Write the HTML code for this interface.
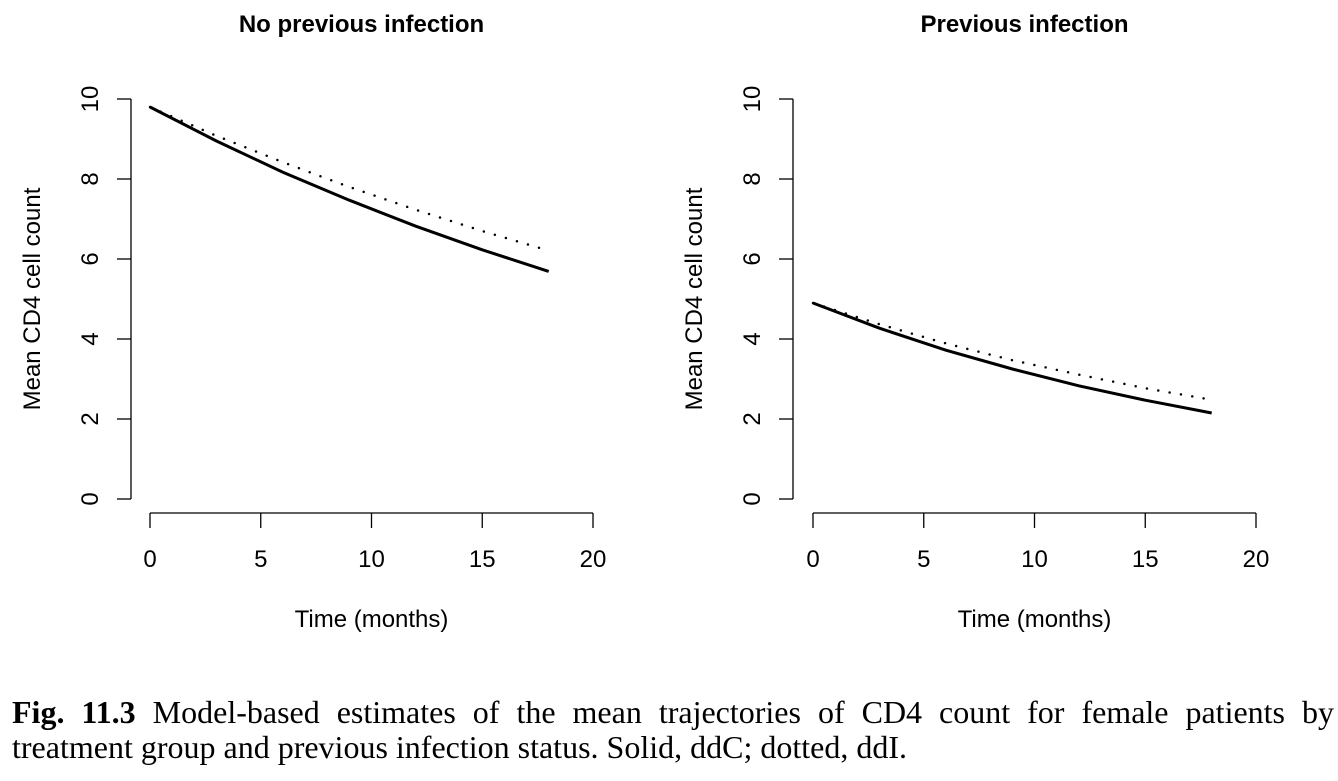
<!DOCTYPE html>
<html><head><meta charset="utf-8"><style>
body{margin:0;background:#fff;width:1338px;height:781px;overflow:hidden}
.cap{position:absolute;left:12px;top:695px;font-family:"Liberation Serif",serif;font-size:32px;line-height:35px;width:1322px;white-space:nowrap}
.l1{display:block;text-align:justify;text-align-last:justify;white-space:normal}
</style></head><body>
<svg id="chart" width="1338" height="781" style="position:absolute;left:0;top:0" font-family="Liberation Sans, sans-serif"></svg>
<div class="cap"><span class="l1"><b>Fig. 11.3</b> Model-based estimates of the mean trajectories of CD4 count for female patients by</span>treatment group and previous infection status. Solid, ddC; dotted, ddI.</div>
<script>
const months=[0,3,6,9,12,15,18];
const leftSolid=[9.8,8.95,8.17,7.47,6.82,6.23,5.69];
const leftDotted=[9.8,9.08,8.42,7.80,7.23,6.70,6.21];
const rightSolid=[4.9,4.27,3.72,3.25,2.83,2.47,2.15];
const rightDotted=[4.9,4.37,3.89,3.47,3.11,2.77,2.48];
const xTicks=[0,5,10,15,20];
const yTicks=[0,2,4,6,8,10];
const titles=["No previous infection","Previous infection"];
const svg=document.getElementById('chart');
const NS='http://www.w3.org/2000/svg';
function mk(t,a,txt){const e=document.createElementNS(NS,t);for(const k in a)e.setAttribute(k,a[k]);if(txt!==undefined)e.textContent=txt;svg.appendChild(e);return e;}
const panels=[{x0:150,ax:131,s:leftSolid,d:leftDotted},{x0:813,ax:793,s:rightSolid,d:rightDotted}];
panels.forEach((p,i)=>{
 const X=v=>p.x0+v*22.15, Y=v=>499-v*40;
 let e=mk('text',{x:(p.x0+X(20))/2-10,y:32,'text-anchor':'middle','font-size':24,'font-weight':'bold'},titles[i]);
 
 
 e=mk('line',{x1:p.ax,x2:p.ax,y1:Y(0),y2:Y(10),stroke:'#000','stroke-width':1.3});
 
 
 yTicks.forEach(t=>{
  e=mk('line',{x1:p.ax-14,x2:p.ax,y1:Y(t),y2:Y(t),stroke:'#000','stroke-width':1.3});
  
  
  e=mk('text',{x:0,y:0,transform:`translate(${p.ax-33},${Y(t)}) rotate(-90)`,'text-anchor':'middle','font-size':24},t);
  
  
 });
 e=mk('line',{x1:X(0),x2:X(20),y1:513,y2:513,stroke:'#000','stroke-width':1.3});
 
 
 xTicks.forEach(t=>{
  e=mk('line',{x1:X(t),x2:X(t),y1:513,y2:528,stroke:'#000','stroke-width':1.3});
  
  
  e=mk('text',{x:X(t),y:567,'text-anchor':'middle','font-size':24},t);
  
  
 });
 e=mk('text',{x:X(10),y:627,'text-anchor':'middle','font-size':24},'Time (months)');
 
 
 e=mk('text',{x:0,y:0,transform:`translate(${p.ax-91},${Y(5)}) rotate(-90)`,'text-anchor':'middle','font-size':24},'Mean CD4 cell count');
 
 
 const pts=a=>a.map((v,j)=>X(months[j])+','+Y(v)).join(' ');
 e=mk('polyline',{points:pts(p.d),fill:'none',stroke:'#000','stroke-width':2.5,'stroke-dasharray':'0 11.5','stroke-linecap':'round'});
 
 
 e=mk('polyline',{points:pts(p.s),fill:'none',stroke:'#000','stroke-width':3});
 
 
});
</script>
</body></html>
